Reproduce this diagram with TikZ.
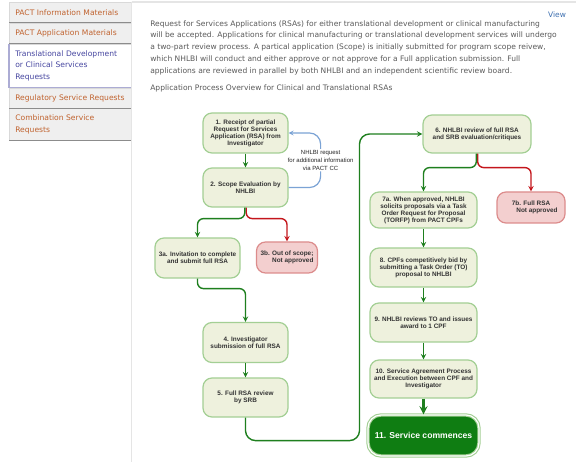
\documentclass[tikz,border=0pt]{standalone}
\usepackage{fontspec}
\setmainfont{Liberation Sans}
\newfontfamily\pagefont{DejaVu Sans}
\usepackage{tikz}
\usetikzlibrary{arrows,backgrounds}

\definecolor{boxfill}{HTML}{EEF1DD}
\definecolor{boxline}{HTML}{A3CF94}
\definecolor{flowgreen}{HTML}{1E7F1E}
\definecolor{flowred}{HTML}{C4161C}
\definecolor{pinkfill}{HTML}{F3CFCF}
\definecolor{pinkline}{HTML}{DC8C8C}
\definecolor{flowblue}{HTML}{7BA3D5}
\definecolor{startgreen}{HTML}{0F7D12}
\definecolor{tabfill}{HTML}{EFEFEF}
\definecolor{tabtext}{HTML}{C0622E}
\definecolor{tabblue}{HTML}{4646A0}
\definecolor{bodytext}{HTML}{5A5A5A}
\definecolor{linkblue}{HTML}{3D6FB0}

\begin{document}
\begin{tikzpicture}[x=1pt,y=-1pt,semithick]
        \tikzstyle{stepnode}=[
            rectangle,
            rounded corners=9pt,
            draw=boxline,
            line width=1.2,
            fill=boxfill,
            text=black!80,
            font=\fontsize{6.4}{7}\selectfont\bfseries,
            align=center,
            inner sep=1pt
        ]
        \tikzstyle{rejectnode}=[
            stepnode,
            draw=pinkline,
            fill=pinkfill
        ]
        \tikzstyle{startnode}=[
            rectangle,
            rounded corners=13pt,
            draw=boxline,
            line width=1.1,
            double=white,
            double distance=1.2,
            fill=startgreen,
            text=white,
            font=\fontsize{8.6}{10}\selectfont\bfseries
        ]
        \tikzstyle{tabnode}=[
            rectangle,
            anchor=north west,
            fill=tabfill,
            draw=black!15,
            minimum width=122,
            text width=110,
            inner xsep=6,
            align=left,
            text=tabtext,
            font=\pagefont\fontsize{7.6}{11.5}\selectfont
        ]
        \tikzstyle{tabedge}=[draw=black!45, line width=1.3]
        \tikzstyle{bodynode}=[
            anchor=north west,
            align=left,
            text=bodytext,
            inner sep=0pt,
            font=\pagefont\fontsize{7.55}{11.8}\selectfont
        ]
        \tikzstyle{gflow}=[-stealth, draw=flowgreen, line width=1.4, rounded corners=6pt]
        \tikzstyle{rflow}=[-stealth, draw=flowred, line width=1.4, rounded corners=6pt]
        \tikzstyle{bflow}=[-stealth, draw=flowblue, line width=1.2, rounded corners=11pt]

        \useasboundingbox[fill=white] (0,0) rectangle (576,462);

        % side menu
        \node[tabnode, minimum height=20] (tab1) at (9,2) {PACT Information Materials};
        \node[tabnode, minimum height=20] (tab2) at (9,23) {PACT Application Materials};
        \node[tabnode, minimum height=43, fill=white, text=tabblue] (tab3) at (9,44) {Translational Development\\or Clinical Services\\Requests};
        \node[tabnode, minimum height=20] (tab4) at (9,88) {Regulatory Service Requests};
        \node[tabnode, minimum height=32] (tab5) at (9,108) {Combination Service\\Requests};
        \draw[tabedge] (tab1.south west) -- (tab1.south east);
        \draw[tabedge] (tab2.south west) -- (tab2.south east);
        \draw[draw=tabblue!45, line width=1.3] (tab3.north west) -- (tab3.south west) -- (tab3.south east);
        \draw[tabedge] (tab4.south west) -- (tab4.south east);
        \draw[tabedge] (tab5.south west) -- (tab5.south east);
        \draw[black!10, line width=1.5] (tab1.north east) -- ++(444,0);
        \draw[black!10] (tab1.north east) -- ++(0,460);

        % page text
        \node[text=linkblue, font=\pagefont\fontsize{7.5}{9}\selectfont] (view) at (557,15) {View};
        \node[bodynode] (intro) at (150,20) {Request for Services Applications (RSAs) for either translational development or clinical manufacturing\\
            will be accepted. Applications for clinical manufacturing or translational development services will undergo\\
            a two-part review process. A partical application (Scope) is initially submitted for program scope reivew,\\
            which NHLBI will conduct and either approve or not approve for a Full application submission. Full\\
            applications are reviewed in parallel by both NHLBI and an independent scientific review board.};
        \node[bodynode] (overview) at (150,84) {Application Process Overview for Clinical and Translational RSAs};

        % flow chart
        \node[stepnode, minimum width=85, minimum height=40] (b1) at (245.5,133) {1. Receipt of partial\\Request for Services\\Application (RSA) from\\Investigator};
        \node[stepnode, minimum width=85, minimum height=39] (b2) at (245.5,187.5) {2. Scope Evaluation by\\NHLBI};
        \node[stepnode, minimum width=85, minimum height=40] (b3a) at (197.5,258) {3a. Invitation to complete\\and submit full RSA};
        \node[rejectnode, minimum width=61, minimum height=31] (b3b) at (287,257.5) {3b. Out of scope;\\\hfill Not approved};
        \node[stepnode, minimum width=85, minimum height=40] (b4) at (245.5,342.5) {4. Investigator\\submission of full RSA};
        \node[stepnode, minimum width=85, minimum height=39] (b5) at (245.5,397.5) {5. Full RSA review\\by SRB};
        \node[stepnode, minimum width=108, minimum height=38] (b6) at (477,134) {6. NHLBI review of full RSA\\and SRB evaluation/critiques};
        \node[stepnode, minimum width=107, minimum height=36] (b7a) at (423.5,210) {7a. When approved, NHLBI\\solicits proposals via a Task\\Order Request for Proposal\\(TORFP) from PACT CPFs};
        \node[rejectnode, minimum width=68, minimum height=31] (b7b) at (531,207.5) {7b. Full RSA\\\hspace*{12pt}Not approved};
        \node[stepnode, minimum width=107, minimum height=39] (b8) at (423.5,267.5) {8. CPFs competitively bid by\\submitting a Task Order (TO)\\proposal to NHLBI};
        \node[stepnode, minimum width=107, minimum height=39] (b9) at (423.5,322.5) {9. NHLBI reviews TO and issues\\award to 1 CPF};
        \node[stepnode, minimum width=107, minimum height=38] (b10) at (423.5,379) {10. Service Agreement Process\\and Execution between CPF and\\Investigator};
        \node[startnode, minimum width=111, minimum height=41] (b11) at (423.5,435.5) {11. Service commences};

        \draw[gflow] (b1) -- (b2);
        \draw[bflow] (b2.east) -- ++(32,0) |- node[pos=0.25, fill=white, text=black!85, inner sep=1pt, align=center, font=\fontsize{6}{8}\selectfont]{NHLBI request\\for additional information\\via PACT CC} (b1.east);
        \draw[rflow] ([xshift=0.7pt]b2.south) -- ++(0,11) -| (b3b.north);
        \draw[gflow] ([xshift=-0.7pt]b2.south) -- ++(0,11) -| (b3a.north);
        \draw[gflow] (b3a.south) -- ++(0,10) -| (b4.north);
        \draw[gflow] (b4) -- (b5);
        \draw[gflow, rounded corners=10pt] (b5.south) -- ++(0,23) -- ++(114,0) |- (b6.west);
        \draw[rflow] ([xshift=0.7pt]b6.south) -- ++(0,14) -| (b7b.north);
        \draw[gflow] ([xshift=-0.7pt]b6.south) -- ++(0,14) -| (b7a.north);
        \draw[gflow] (b7a) -- (b8);
        \draw[gflow] (b8) -- (b9);
        \draw[gflow] (b9) -- (b10);
        \draw[-stealth, draw=flowgreen, line width=2.6] (b10) -- (b11);

    \end{tikzpicture}
\end{document}
